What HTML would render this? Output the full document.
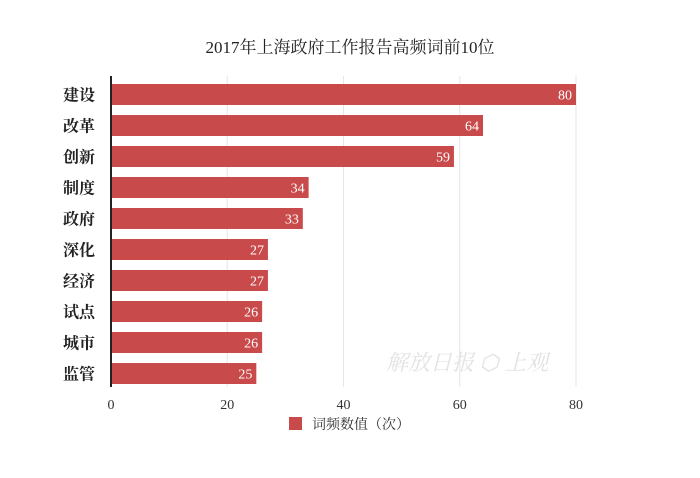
<!DOCTYPE html>
<html><head><meta charset="utf-8"><style>
body{margin:0;background:#fff;}
svg text{font-family:"Liberation Serif","Noto Serif CJK SC",serif;}
</style></head><body>
<svg width="700" height="473" viewBox="0 0 700 473">
<text x="350" y="53" text-anchor="middle" font-size="17" fill="#222">2017年上海政府工作报告高频词前10位</text>
<g id="grid"></g>
<g id="bars"></g>
<line x1="111" y1="76" x2="111" y2="387" stroke="#222" stroke-width="2"/>
<g id="xticks"></g>
<text x="386" y="370" font-size="22" fill="#e2e2e2" font-style="italic">解放日报 ⬡ 上观</text>
<rect x="289" y="417" width="13" height="13" fill="#c94a4a"/>
<text x="312" y="429" font-size="14" fill="#333">词频数值（次）</text>
</svg>
<script>
const categories=["建设","改革","创新","制度","政府","深化","经济","试点","城市","监管"];
const values=[80,64,59,34,33,27,27,26,26,25];
const ticks=[0,20,40,60,80];
const ns="http://www.w3.org/2000/svg";
const x0=111,x1=576,xmax=80;
const sx=v=>x0+(x1-x0)*v/xmax;
const top0=84,pitch=31,bh=21;
const mk=(t,a)=>{const e=document.createElementNS(ns,t);for(const k in a)e.setAttribute(k,a[k]);return e;};
const g=document.getElementById('grid'),b=document.getElementById('bars'),xt=document.getElementById('xticks');
ticks.forEach(t=>{
 if(t>0){const l=mk('line',{x1:sx(t),x2:sx(t),y1:76,y2:387,stroke:'#e6e6e6','stroke-width':1});
 
 g.appendChild(l);}
 const tx=mk('text',{x:sx(t),y:409,'text-anchor':'middle','font-size':14,fill:'#333'});tx.textContent=t;
 
 xt.appendChild(tx);
});
categories.forEach((c,i)=>{
 const y=top0+i*pitch;
 const r=mk('rect',{x:x0,y:y,width:sx(values[i])-x0,height:bh,fill:'#c94a4a'});
 
 b.appendChild(r);
 const v=mk('text',{x:sx(values[i])-4,y:y+bh/2+5,'text-anchor':'end','font-size':14,fill:'#fff'});v.textContent=values[i];
 
 b.appendChild(v);
 const l=mk('text',{x:95,y:y+bh/2+6,'text-anchor':'end','font-size':16,fill:'#222','font-weight':'bold'});l.textContent=c;
 
 b.appendChild(l);
});
</script>
</body></html>
